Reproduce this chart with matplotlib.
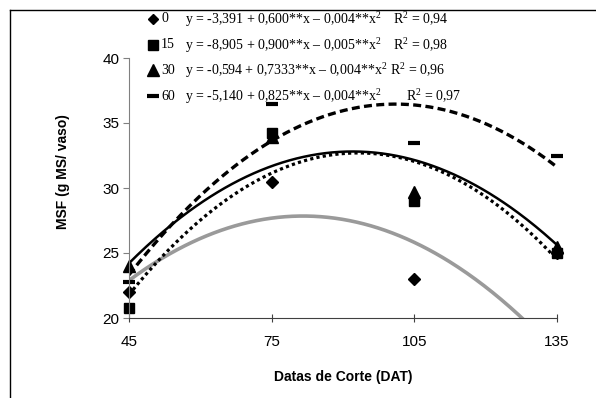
import numpy as np
import matplotlib
matplotlib.use("Agg")
import matplotlib.pyplot as plt
from matplotlib.lines import Line2D

# cutting dates (DAT)
dat = [45, 75, 105, 135]

# observed values per dose
dose_labels = ["0", "15", "30", "60"]
msf_0 = [22.0, 30.5, 23.0, 25.0]
msf_15 = [20.8, 34.2, 29.0, 25.0]
msf_30 = [24.0, 33.9, 29.7, 25.5]
msf_60 = [22.8, 36.5, 33.5, 32.5]

# fitted quadratic trend lines (c0, c1, c2) as drawn
fit_0 = [3.21, 0.6038, -0.0037]
fit_15 = [-8.04, 0.8742, -0.00469]
fit_30 = [-0.12, 0.7158, -0.00389]
fit_60 = [-6.29, 0.8464, -0.00419]

equations = [
    "y = -3,391 + 0,600**x \u2013 0,004**x$^2$",
    "y = -8,905 + 0,900**x \u2013 0,005**x$^2$",
    "y = -0,594 + 0,7333**x \u2013 0,004**x$^2$",
    "y = -5,140 + 0,825**x \u2013 0,004**x$^2$",
]
r2 = ["0,94", "0,98", "0,96", "0,97"]

plt.rcParams['font.family'] = ['Liberation Sans', 'DejaVu Sans']
plt.rcParams['mathtext.fontset'] = 'custom'
plt.rcParams['mathtext.rm'] = 'Liberation Serif'

W, H = 596, 398
fig = plt.figure(figsize=(W / 100, H / 100), dpi=100)
ax = fig.add_axes([129 / W, 1 - 318 / H, (557 - 129) / W, (318 - 58) / H])

xs = np.linspace(45, 135, 300)
def curve(c):
    return c[0] + c[1] * xs + c[2] * xs ** 2

ax.plot(xs, curve(fit_0), color='#9a9a9a', lw=2.6, solid_capstyle='butt')
ax.plot(xs, curve(fit_15), color='black', lw=2.3, linestyle=(0, (1, 1)))
ax.plot(xs, curve(fit_30), color='black', lw=1.8)
ax.plot(xs, curve(fit_60), color='black', lw=2.4, linestyle=(0, (2.4, 1.3)))

ax.plot(dat, msf_0, 'D', color='black', ms=6, ls='none', clip_on=False)
ax.plot(dat, msf_15, 's', color='black', ms=7.5, ls='none', clip_on=False)
ax.plot(dat, msf_30, '^', color='black', ms=8, ls='none', clip_on=False)
ax.plot(dat, msf_60, '_', color='black', ms=8, mew=3, ls='none', clip_on=False)

ax.set_xlim(45, 135)
ax.set_ylim(20, 40)
ax.set_xticks(dat)
ax.set_yticks([20, 25, 30, 35, 40])
for s in ['top', 'right']:
    ax.spines[s].set_visible(False)
ax.spines['left'].set_color('#808080')
ax.spines['bottom'].set_color('#404040')
ax.tick_params(axis='x', direction='inout', length=6, pad=9, labelsize=11, color='#404040')
ax.tick_params(axis='y', direction='out', length=4, pad=3, labelsize=11, color='#808080')

fig.text(343 / W, 1 - 377 / H, "Datas de Corte (DAT)", ha='center', va='center',
         fontsize=10, fontweight='bold')
fig.text(63 / W, 1 - 172 / H, "MSF (g MS/ vaso)", ha='center', va='center',
         fontsize=10, fontweight='bold', rotation=90)

# legend rows
markers = ['D', 's', '^', '_']
msizes = [5.5, 7, 8, 8]
row_y = [19, 45, 70, 96]
r2_x = [393, 393, 390, 406]
for i in range(4):
    yy = 1 - row_y[i] / H
    fig.add_artist(Line2D([153 / W], [yy], marker=markers[i], color='black',
                          ms=msizes[i], mew=3 if markers[i] == '_' else 1, ls='none'))
    fig.text(161 / W, yy, dose_labels[i], ha='left', va='center',
             fontsize=10, family='Liberation Serif')
    fig.text(185 / W, yy, equations[i], ha='left', va='center',
             fontsize=10, family='Liberation Serif')
    fig.text(r2_x[i] / W, yy, "R$^2$ = " + r2[i], ha='left', va='center',
             fontsize=10, family='Liberation Serif')

# border of the chart area (top and left edges only visible)
fig.add_artist(Line2D([10 / W, 1], [1 - 10 / H, 1 - 10 / H], color='black', lw=1))
fig.add_artist(Line2D([10 / W, 10 / W], [0, 1 - 10 / H], color='black', lw=1))

fig.savefig("out.png", dpi=100)
